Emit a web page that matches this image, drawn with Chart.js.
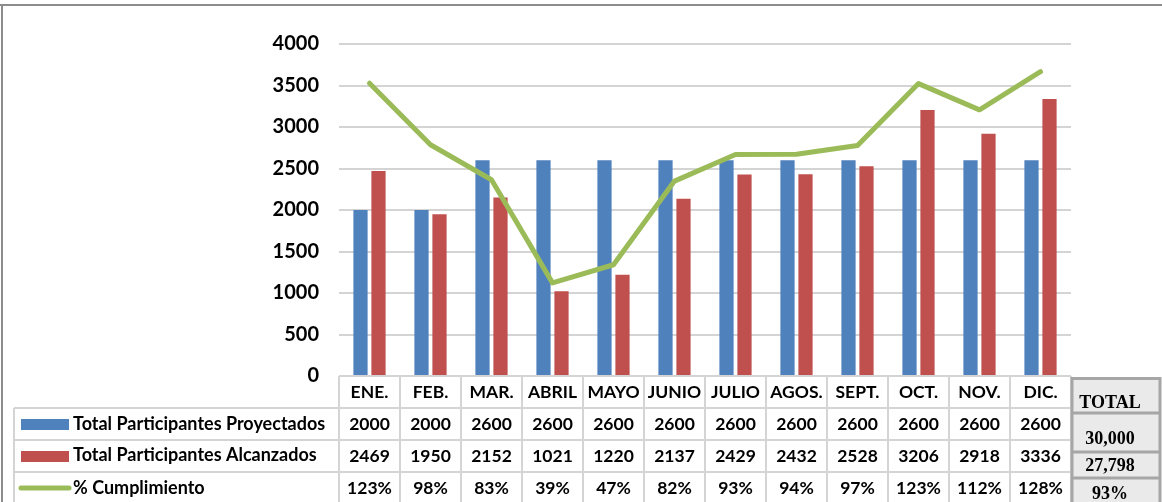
<!DOCTYPE html>
<html>
<head>
<meta charset="utf-8">
<script src="https://cdn.jsdelivr.net/npm/chart.js@4/dist/chart.umd.min.js"></script>
<style>
html,body{margin:0;padding:0;background:#fff;}
#wrap{width:1162px;height:502px;position:relative;}
</style>
</head>
<body>
<div id="wrap"><canvas id="c" width="1162" height="502"></canvas></div>
<script>
const months = ['ENE.','FEB.','MAR.','ABRIL','MAYO','JUNIO','JULIO','AGOS.','SEPT.','OCT.','NOV.','DIC.'];
const proyectados = [2000,2000,2600,2600,2600,2600,2600,2600,2600,2600,2600,2600];
const alcanzados = [2469,1950,2152,1021,1220,2137,2429,2432,2528,3206,2918,3336];
const cumplimiento = [123.45,97.5,82.77,39.27,46.92,82.19,93.42,93.54,97.23,123.31,112.23,128.31];
const cumplimientoLabels = ['123%','98%','83%','39%','47%','82%','93%','94%','97%','123%','112%','128%'];
const seriesNames = ['Total Participantes Proyectados','Total Participantes Alcanzados','% Cumplimiento'];
const totalLabels = ['TOTAL','30,000','27,798','93%'];
const yTicks = [0,500,1000,1500,2000,2500,3000,3500,4000];

const BLUE='#4F81BD', RED='#C0504D', GREEN='#9BBB59';
const SANS='Lato, "Open Sans", sans-serif';

const tablePlugin = {
  id:'tablePlugin',
  afterDraw(chart){
    const ctx = chart.ctx;
    const xs = chart.scales.x;
    const ca = chart.chartArea;
    const w = xs.getPixelForValue(1) - xs.getPixelForValue(0);
    const L = ca.left, R = ca.right;
    const rows = [ca.bottom, 408, 440, 472, 504];
    ctx.save();
    // outer frame
    ctx.strokeStyle = '#8c8c8c';
    ctx.lineWidth = 2;
    ctx.beginPath();
    ctx.moveTo(0,5); ctx.lineTo(1162,5);
    ctx.moveTo(2,5); ctx.lineTo(2,502);
    ctx.stroke();

    // table grid
    ctx.strokeStyle = '#D4D4D4';
    ctx.lineWidth = 2;
    ctx.beginPath();
    ctx.moveTo(L, rows[0]); ctx.lineTo(R, rows[0]);
    for (let r=1;r<rows.length-1;r++){ ctx.moveTo(14, rows[r]); ctx.lineTo(R, rows[r]); }
    for (let i=0;i<=months.length;i++){
      const x = L + i*w;
      ctx.moveTo(x, rows[0]); ctx.lineTo(x, 502);
    }
    ctx.moveTo(14, rows[1]); ctx.lineTo(14, 502);
    ctx.stroke();

    // texts
    ctx.fillStyle = '#000';
    ctx.textAlign = 'center';
    ctx.textBaseline = 'middle';
    ctx.font = 'bold 17.5px ' + SANS;
    months.forEach((m,i)=>{
      const cx = xs.getPixelForValue(i);
      ctx.fillText(m, cx, 392);
      ctx.fillText(String(proyectados[i]), cx, 424);
      ctx.fillText(String(alcanzados[i]), cx, 456);
      ctx.fillText(cumplimientoLabels[i], cx, 488);
    });

    // legend keys
    ctx.fillStyle = BLUE; ctx.fillRect(21, 419, 48, 11);
    ctx.fillStyle = RED; ctx.fillRect(21, 451, 48, 11);
    ctx.strokeStyle = GREEN; ctx.lineWidth = 5; ctx.lineCap='round';
    ctx.beginPath(); ctx.moveTo(21, 488); ctx.lineTo(69, 488); ctx.stroke();
    ctx.lineCap='butt';
    ctx.fillStyle = '#000';
    ctx.textAlign = 'left';
    ctx.font = 'bold 18px ' + SANS;
    ctx.fillText(seriesNames[0], 73, 424);
    ctx.fillText(seriesNames[1], 73, 455);
    ctx.fillText(seriesNames[2], 73, 488);

    // TOTAL box
    const tx = R, tr = 1160;
    ctx.fillStyle = '#EAEAEA';
    ctx.fillRect(tx, 377, tr - tx, 125);
    ctx.strokeStyle = '#A6A6A6';
    ctx.lineWidth = 3;
    ctx.beginPath();
    ctx.moveTo(tx+1, 377); ctx.lineTo(tx+1, 502);
    ctx.moveTo(tr, 377); ctx.lineTo(tr, 502);
    ctx.moveTo(tx, 378.5); ctx.lineTo(tr+1.5, 378.5);
    ctx.moveTo(tx, 413); ctx.lineTo(tr+1.5, 413);
    ctx.moveTo(tx, 452); ctx.lineTo(tr+1.5, 452);
    ctx.moveTo(tx, 478); ctx.lineTo(tr+1.5, 478);
    ctx.stroke();
    ctx.fillStyle = '#000';
    ctx.textAlign = 'center';
    ctx.font = 'bold 18px "Liberation Serif", serif';
    const tcx = 1110;
    ctx.fillText(totalLabels[0], tcx, 403);
    ctx.fillText(totalLabels[1], tcx, 439);
    ctx.fillText(totalLabels[2], tcx, 466);
    ctx.fillText(totalLabels[3], tcx, 494);
    ctx.restore();
  }
};

new Chart(document.getElementById('c'), {
  type:'bar',
  data:{
    labels: months,
    datasets:[
      {type:'line', label: seriesNames[2], data: cumplimiento, yAxisID:'y1', borderColor: GREEN, backgroundColor: GREEN,
       borderWidth:5, pointRadius:0, tension:0, borderCapStyle:'round', borderJoinStyle:'round', order:0},
      {label: seriesNames[0], data: proyectados, backgroundColor: BLUE, yAxisID:'y', order:1,
       categoryPercentage:0.59, barPercentage:0.79},
      {label: seriesNames[1], data: alcanzados, backgroundColor: RED, yAxisID:'y', order:1,
       categoryPercentage:0.59, barPercentage:0.79}
    ]
  },
  options:{
    responsive:false,
    animation:false,
    layout:{padding:{top:44, right:91, bottom:126, left:0}},
    plugins:{legend:{display:false}, tooltip:{enabled:false}},
    scales:{
      x:{display:false, offset:true},
      y:{
        min:0, max:4000,
        afterBuildTicks(s){ s.ticks = yTicks.map(v=>({value:v})); },
        afterFit(s){ s.width = 339; },
        ticks:{color:'#000', font:{family:SANS, size:20, weight:'bold'}, padding:20,
               callback:(v)=>String(v)},
        grid:{color:'#D4D4D4', lineWidth:2, drawTicks:false},
        border:{display:false}
      },
      y1:{display:false, min:0, max:140}
    }
  },
  plugins:[tablePlugin]
});
</script>
</body>
</html>
